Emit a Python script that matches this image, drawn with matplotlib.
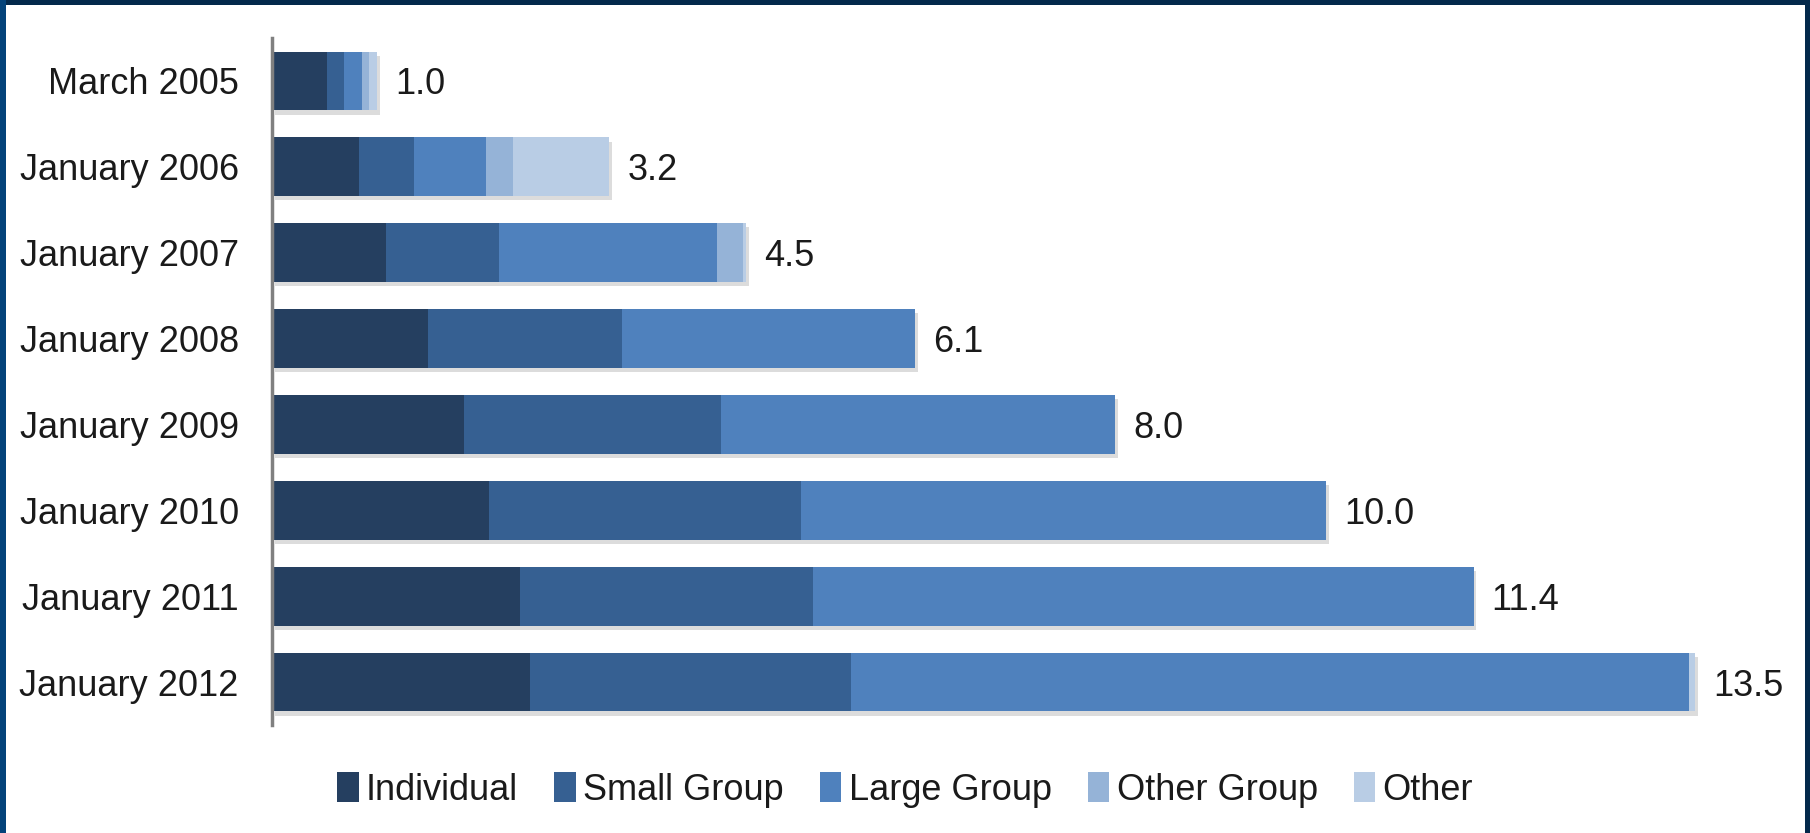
import matplotlib
matplotlib.use("Agg")
import matplotlib.pyplot as plt
import matplotlib.patheffects as pe
from matplotlib.patches import Rectangle
import numpy as np

plt.rcParams['font.family'] = ['Liberation Sans', 'DejaVu Sans']

periods = ["March 2005", "January 2006", "January 2007", "January 2008",
           "January 2009", "January 2010", "January 2011", "January 2012"]
totals = [1.0, 3.2, 4.5, 6.1, 8.0, 10.0, 11.4, 13.5]

series_names = ["Individual", "Small Group", "Large Group", "Other Group", "Other"]
individual = [0.52, 0.83, 1.08, 1.48, 1.82, 2.06, 2.35, 2.45]
small_group = [0.16, 0.52, 1.07, 1.84, 2.44, 2.96, 2.78, 3.04]
large_group = [0.17, 0.68, 2.07, 2.78, 3.74, 4.98, 6.27, 7.95]
other_group = [0.07, 0.26, 0.25, 0.0, 0.0, 0.0, 0.0, 0.0]
other = [0.08, 0.91, 0.03, 0.0, 0.0, 0.0, 0.0, 0.06]

colors = ["#253f60", "#366092", "#4f81bd", "#95b3d7", "#b9cde5"]

W, H = 1810, 833
fig = plt.figure(figsize=(W / 100, H / 100), dpi=100)
fig.patch.set_facecolor("white")

# navy frame on top, left and right
fig.patches.append(Rectangle((0, 1 - 5 / H), 1, 5 / H, transform=fig.transFigure,
                             facecolor="#03294b", edgecolor="none", zorder=10))
fig.patches.append(Rectangle((0, 0), 6 / W, 1, transform=fig.transFigure,
                             facecolor="#04437a", edgecolor="none", zorder=10))
fig.patches.append(Rectangle((1 - 5 / W, 0), 5 / W, 1, transform=fig.transFigure,
                             facecolor="#03294b", edgecolor="none", zorder=10))

ax_left, ax_right, ax_top, ax_bottom = 272, 1780, 38, 725
ax = fig.add_axes([ax_left / W, 1 - ax_bottom / H,
                   (ax_right - ax_left) / W, (ax_bottom - ax_top) / H])

px_per_unit = 105.4
ax.set_xlim(0, (ax_right - ax_left) / px_per_unit)
ax.set_ylim(len(periods) - 0.5, -0.5)

y = np.arange(len(periods))
shadow = [pe.SimplePatchShadow(offset=(2, -3), shadow_rgbFace="#8c8c8c", alpha=0.3),
          pe.Normal()]
left = np.zeros(len(periods))
for name, vals, c in zip(series_names,
                         [individual, small_group, large_group, other_group, other],
                         colors):
    vals = np.array(vals)
    bars = ax.barh(y, vals, left=left, height=0.685, color=c, label=name,
                   edgecolor="none")
    for b in bars:
        b.set_path_effects(shadow)
    left += vals

for yi, t in zip(y, totals):
    ax.text(t + 0.17, yi, f"{t:.1f}", va="center_baseline", ha="left",
            fontsize=26, color="#1a1a1a")

ax.set_yticks(y)
ax.set_yticklabels(periods, fontsize=26, color="#1a1a1a")
ax.tick_params(axis="y", length=0, pad=24)
ax.set_xticks([])
for s in ["top", "right", "bottom"]:
    ax.spines[s].set_visible(False)
ax.spines["left"].set_color("#808080")
ax.spines["left"].set_linewidth(2.5)

leg = fig.legend(loc="center", bbox_to_anchor=(0.5, 1 - 790 / H), ncol=5,
                 frameon=False, fontsize=26, handlelength=0.6, handleheight=0.9,
                 handletextpad=0.2, columnspacing=1.0, labelcolor="#1a1a1a")
for h in leg.legend_handles:
    h.set_path_effects([])

fig.savefig("out.png", dpi=100, facecolor=fig.get_facecolor())
